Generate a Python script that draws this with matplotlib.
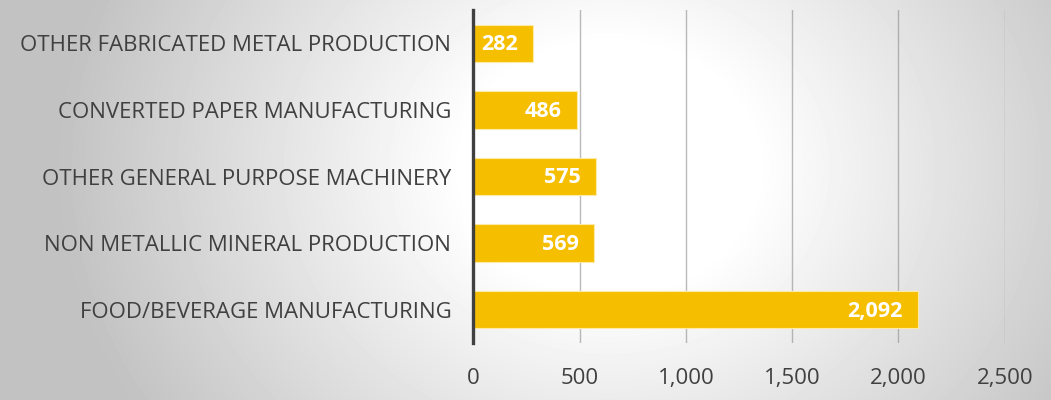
import numpy as np
import matplotlib
matplotlib.use("Agg")
import matplotlib.pyplot as plt
from matplotlib.ticker import FuncFormatter

# data, top to bottom as shown
categories = [
    "OTHER FABRICATED METAL PRODUCTION",
    "CONVERTED PAPER MANUFACTURING",
    "OTHER GENERAL PURPOSE MACHINERY",
    "NON METALLIC MINERAL PRODUCTION",
    "FOOD/BEVERAGE MANUFACTURING",
]
values = [282, 486, 575, 569, 2092]
x_ticks = [0, 500, 1000, 1500, 2000, 2500]

bar_color = "#f5bf00"
text_color = "#404040"
plt.rcParams['font.family'] = ['Open Sans', 'DejaVu Sans']

fig = plt.figure(figsize=(10.51, 4.0), dpi=100)

# radial grey gradient background, white patch in the middle
bg = fig.add_axes([0, 0, 1, 1], zorder=-10)
yy, xx = np.mgrid[0:1:400j, 0:1:1051j]
r = np.sqrt((xx - 0.58) ** 2 + ((yy - 0.42) * 0.45) ** 2)
shade = np.clip(1.0 - 0.62 * np.maximum(r - 0.14, 0), 0.76, 1.0)
bg.imshow(shade, cmap="gray", vmin=0, vmax=1, aspect="auto", origin="upper",
          extent=[0, 1, 0, 1])
bg.axis("off")

ax = fig.add_axes([0.4505, 0.1425, 0.5055, 0.8325])
ax.patch.set_alpha(0)

pos = np.arange(len(categories))
bars = ax.barh(pos, values, height=0.56, color=bar_color,
               edgecolor="#fde9a8", linewidth=0.8, zorder=3)

for b, v in zip(bars, values):
    ax.annotate(f"{v:,}", xy=(v, b.get_y() + b.get_height() / 2),
                xytext=(-11, -1), textcoords="offset points",
                ha="right", va="center", color="white",
                fontsize=15.5, fontweight="bold", zorder=4)

ax.set_yticks(pos)
ax.set_yticklabels(categories, fontsize=16, color=text_color)
ax.set_ylim(len(categories) - 0.5, -0.5)

ax.set_xlim(0, 2500)
ax.set_xticks(x_ticks)
ax.xaxis.set_major_formatter(FuncFormatter(lambda v, p: f"{int(v):,}"))
ax.tick_params(axis="x", labelsize=16, labelcolor=text_color, length=0, pad=18)
ax.tick_params(axis="y", length=0, pad=16)

ax.grid(axis="x", color="#8c8c8c", alpha=0.6, linewidth=1.0, zorder=0)
for s in ["top", "right", "bottom"]:
    ax.spines[s].set_visible(False)
ax.spines["left"].set_color("#404040")
ax.spines["left"].set_linewidth(2.4)
ax.spines["left"].set_zorder(5)

plt.savefig("out.png", dpi=100)
